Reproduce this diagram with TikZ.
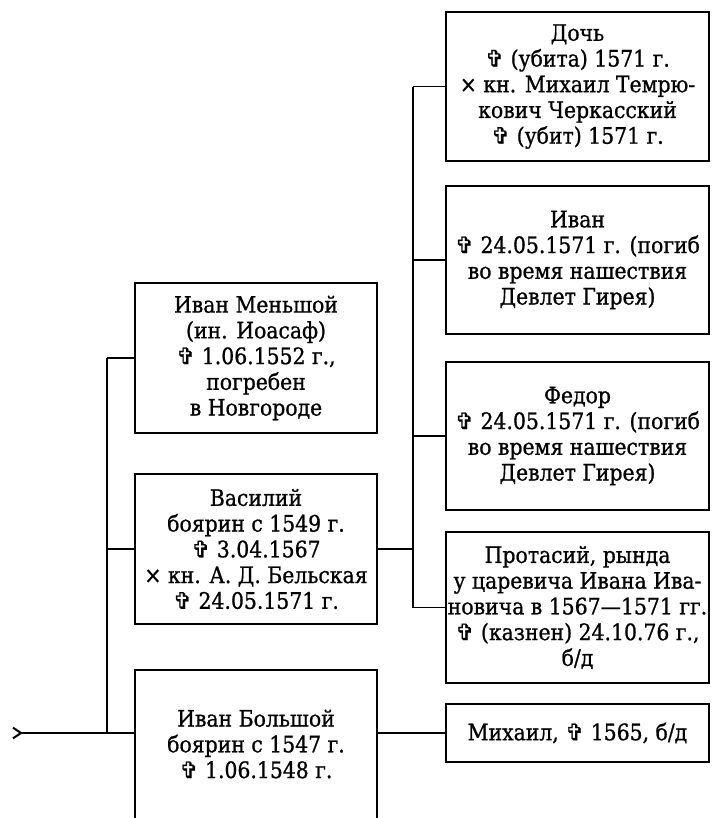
\documentclass[tikz,border=0pt]{standalone}
\usepackage{fontspec}
\setmainfont{DejaVu Serif Condensed}[FakeBold=0.9]
\newfontfamily\symfont{DejaVu Sans}[FakeBold=0.9]
\newcommand{\dcross}{{\symfont ✞}}
\usetikzlibrary{arrows.meta}
\begin{document}
\begin{tikzpicture}[x=0.75pt,y=-0.75pt,
  box/.style={draw, line width=1.3pt, inner sep=0pt, align=center,
    font=\fontsize{17}{19.3}\selectfont},
  openbox/.style={inner sep=0pt, align=center, font=\fontsize{17}{19.3}\selectfont},
  wire/.style={line width=1.3pt}]
\useasboundingbox (0,0) rectangle (711,818);
% right column
\node[box, minimum width=197.25pt, minimum height=111.75pt] (doch) at (577.5,86.5)
  {Дочь\\ \dcross{} (убита) 1571 г.\\ × кн. Михаил Темрю-\\ кович Черкасский\\ \dcross{} (убит) 1571 г.};
\node[box, minimum width=197.25pt, minimum height=111pt] (ivan) at (577.5,260)
  {Иван\\ \dcross{} 24.05.1571 г. (погиб\\ во время нашествия\\ Девлет Гирея)};
\node[box, minimum width=197.25pt, minimum height=111pt] (fedor) at (577.5,436)
  {Федор\\ \dcross{} 24.05.1571 г. (погиб\\ во время нашествия\\ Девлет Гирея)};
\node[box, minimum width=197.25pt, minimum height=113.25pt] (protas) at (577.5,607.5)
  {Протасий, рында\\ у царевича Ивана Ива-\\ новича в 1567—1571 гг.\\ \dcross{} (казнен) 24.10.76 г.,\\ б/д};
\node[box, minimum width=197.25pt, minimum height=43.5pt] (mikh) at (577.5,733)
  {Михаил, \dcross{} 1565, б/д};
% left column
\node[box, minimum width=181.5pt, minimum height=112.5pt] (menshoi) at (256,358)
  {Иван Меньшой\\ (ин. Иоасаф)\\ \dcross{} 1.06.1552 г.,\\ погребен\\ в Новгороде};
\node[box, minimum width=181.5pt, minimum height=112.5pt] (vasily) at (256,549)
  {Василий\\ боярин с 1549 г.\\ \dcross{} 3.04.1567\\ × кн. А. Д. Бельская\\ \dcross{} 24.05.1571 г.};
\node[openbox, minimum width=181.5pt, minimum height=111pt] (bolshoi) at (256,744)
  {Иван Большой\\ боярин с 1547 г.\\ \dcross{} 1.06.1548 г.};
\draw[wire] (bolshoi.south west) -- (bolshoi.north west) -- (bolshoi.north east) -- (bolshoi.south east);
% connectors
\coordinate (src) at (12,733);
\coordinate (tL) at (107,0);
\coordinate (tR) at (413,0);
\draw[wire, {Straight Barb[reversed,length=6pt,width=8pt,line width=1.5pt]}-] (src) -- (src -| bolshoi.west);
\draw[wire] (tL |- menshoi.west) -- (tL |- src);
\draw[wire] (tL |- menshoi.west) -- (menshoi.west);
\draw[wire] (tL |- vasily.west) -- (vasily.west);
\draw[wire] (vasily.east) -- (tR |- vasily.east);
\draw[wire] (tR |- doch.west) -- (tR |- protas.west);
\draw[wire] (tR |- doch.west) -- (doch.west);
\draw[wire] (tR |- ivan.west) -- (ivan.west);
\draw[wire] (tR |- fedor.west) -- (fedor.west);
\draw[wire] (tR |- protas.west) -- (protas.west);
\draw[wire] (mikh.west) -- (mikh.west -| bolshoi.east);
\end{tikzpicture}
\end{document}
